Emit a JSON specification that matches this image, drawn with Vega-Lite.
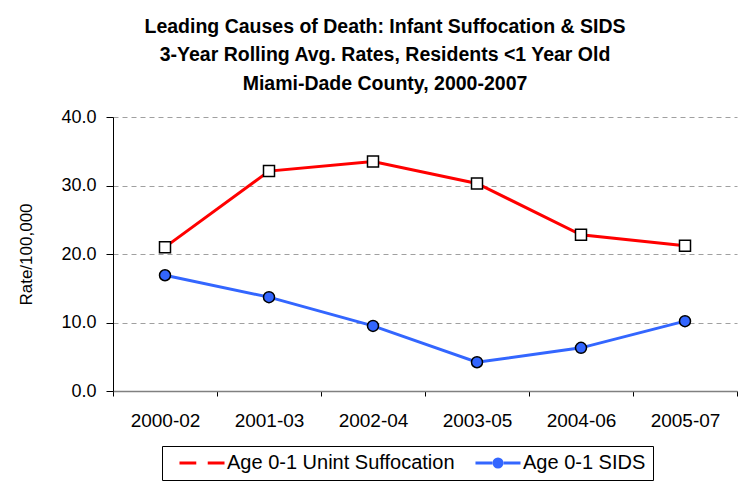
{
  "$schema": "https://vega.github.io/schema/vega-lite/v6.json",
  "width": 624,
  "height": 274,
  "autosize": {"type": "none"},
  "padding": {"left": 113, "top": 117, "right": 10, "bottom": 93},
  "background": "white",
  "config": {
    "view": {"stroke": null},
    "font": "Liberation Sans",
    "axis": {"labelFont": "Liberation Sans", "titleFont": "Liberation Sans", "labelColor": "black", "titleColor": "black"},
    "legend": {"labelFont": "Liberation Sans", "labelLimit": 0}
  },
  "title": {
    "text": ["Leading Causes of Death: Infant Suffocation & SIDS", "3-Year Rolling Avg. Rates, Residents <1 Year Old", "Miami-Dade County, 2000-2007"],
    "font": "Liberation Sans",
    "fontSize": 19.5,
    "fontWeight": "bold",
    "lineHeight": 28.5,
    "color": "black",
    "anchor": "middle",
    "dx": -40,
    "offset": 14
  },
  "data": {
    "values": [
      {"period": "2000-02", "series": "Age 0-1 Unint Suffocation", "rate": 21.0},
      {"period": "2001-03", "series": "Age 0-1 Unint Suffocation", "rate": 32.1},
      {"period": "2002-04", "series": "Age 0-1 Unint Suffocation", "rate": 33.5},
      {"period": "2003-05", "series": "Age 0-1 Unint Suffocation", "rate": 30.3},
      {"period": "2004-06", "series": "Age 0-1 Unint Suffocation", "rate": 22.8},
      {"period": "2005-07", "series": "Age 0-1 Unint Suffocation", "rate": 21.2},
      {"period": "2000-02", "series": "Age 0-1 SIDS", "rate": 16.9},
      {"period": "2001-03", "series": "Age 0-1 SIDS", "rate": 13.7},
      {"period": "2002-04", "series": "Age 0-1 SIDS", "rate": 9.5},
      {"period": "2003-05", "series": "Age 0-1 SIDS", "rate": 4.2},
      {"period": "2004-06", "series": "Age 0-1 SIDS", "rate": 6.3},
      {"period": "2005-07", "series": "Age 0-1 SIDS", "rate": 10.2}
    ]
  },
  "encoding": {
    "x": {
      "field": "period",
      "type": "ordinal",
      "sort": null,
      "scale": {"type": "band", "paddingInner": 0, "paddingOuter": 0},
      "axis": {
        "title": null,
        "labelAngle": 0,
        "labelFontSize": 19,
        "labelPadding": 15,
        "tickBand": "extent",
        "tickSize": 5,
        "tickColor": "black",
        "domainColor": "#808080",
        "domainWidth": 1.5,
        "grid": false
      }
    },
    "y": {
      "field": "rate",
      "type": "quantitative",
      "scale": {"domain": [0, 40], "nice": false},
      "axis": {
        "title": "Rate/100,000",
        "titleFontSize": 17,
        "titleFontWeight": "normal",
        "titlePadding": 25,
        "values": [0, 10, 20, 30, 40],
        "format": ".1f",
        "labelFontSize": 18,
        "labelPadding": 10,
        "tickSize": 7,
        "tickColor": "black",
        "domainColor": "black",
        "grid": true,
        "gridColor": "#a0a0a0",
        "gridDash": [5, 4],
        "gridWidth": 1
      }
    }
  },
  "layer": [
    {
      "mark": {"type": "line", "strokeWidth": 3},
      "encoding": {
        "color": {
          "field": "series",
          "type": "nominal",
          "scale": {"domain": ["Age 0-1 Unint Suffocation", "Age 0-1 SIDS"], "range": ["#ff0000", "#3366ff"]},
          "legend": {
            "title": null,
            "orient": "none",
            "legendX": 49,
            "legendY": 329,
            "direction": "horizontal",
            "padding": 7,
            "strokeColor": "black",
            "symbolType": "M-4.74,0H-1.15M1.15,0H4.74",
            "symbolSize": 90.25,
            "symbolStrokeWidth": 3,
            "symbolFillColor": "transparent",
            "symbolOffset": 23,
            "labelOffset": 15,
            "labelFontSize": 20,
            "labelColor": "black",
            "columnPadding": 10
          }
        }
      }
    },
    {
      "mark": {"type": "point", "filled": true, "size": 121, "stroke": "black", "strokeWidth": 1.5, "opacity": 1},
      "encoding": {
        "shape": {
          "field": "series",
          "type": "nominal",
          "sort": "descending",
          "scale": {"range": ["square", "circle"]},
          "legend": {
            "title": null,
            "orient": "none",
            "legendX": 49,
            "legendY": 329,
            "direction": "horizontal",
            "padding": 7,
            "symbolSize": 121,
            "symbolStrokeColor": "black",
            "symbolStrokeWidth": 1.5,
            "symbolOffset": 23,
            "labelOffset": 15,
            "labelFontSize": 20,
            "labelOpacity": 0,
            "columnPadding": 10,
            "encode": {"symbols": {
              "shape": {"signal": "datum.value === 'Age 0-1 SIDS' ? 'circle' : 'M-1,-1H1V1H-1Z M-0.7,-0.7V0.7H0.7V-0.7Z'"},
              "fill": {"signal": "datum.value === 'Age 0-1 SIDS' ? '#3366ff' : '#000000'"},
              "fillOpacity": {"value": 1},
              "stroke": {"signal": "datum.value === 'Age 0-1 SIDS' ? '#000000' : 'transparent'"},
              "strokeWidth": {"value": 1.5}
            }}
          }
        },
        "fill": {
          "field": "series",
          "type": "nominal",
          "sort": "descending",
          "scale": {"range": ["white", "#3366ff"]},
          "legend": null
        }
      }
    }
  ]
}
